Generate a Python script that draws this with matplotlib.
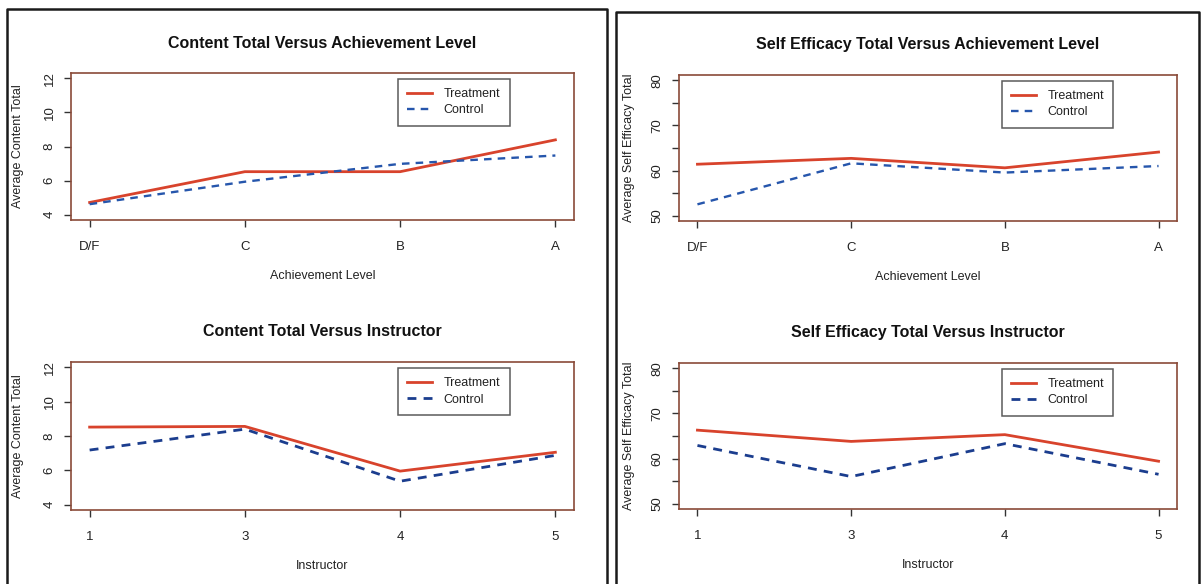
import matplotlib
matplotlib.use("Agg")
import matplotlib.pyplot as plt
import numpy as np

plt.rcParams['font.family'] = ['Liberation Sans', 'DejaVu Sans']

# data
grade_levels = ['D/F', 'C', 'B', 'A']
instructors = ['1', '3', '4', '5']

content_grade_trt = [4.71, 6.52, 6.52, 8.39]
content_grade_ctl = [4.61, 5.93, 6.98, 7.47]
content_instr_trt = [8.52, 8.56, 5.95, 7.05]
content_instr_ctl = [7.18, 8.40, 5.36, 6.87]

se_grade_trt = [61.4, 62.7, 60.6, 64.1]
se_grade_ctl = [52.5, 61.6, 59.55, 61.0]
se_instr_trt = [66.3, 63.8, 65.3, 59.4]
se_instr_ctl = [62.9, 56.0, 63.3, 56.5]

content_ticks = [4, 6, 8, 10, 12]
se_ticks = [50, 55, 60, 65, 70, 75, 80]
se_ticklabels = ['50', '', '60', '', '70', '', '80']

W, H = 1202, 584
fig = plt.figure(figsize=(W / 100, H / 100), dpi=100)
fig.patch.set_facecolor('white')

TRT_COLOR = '#d8432c'
TXT = '#222222'
SPINE = '#8a4a38'


def add_ax(x0, y0, x1, y1):
    return fig.add_axes([x0 / W, 1 - y1 / H, (x1 - x0) / W, (y1 - y0) / H])


def draw(ax, trt, ctl, cats, ticks, ticklabels, title, xlabel, ylabel,
         ctl_color, ctl_lw, ylab_off):
    x = np.arange(1, len(cats) + 1)
    ax.plot(x, trt, color=TRT_COLOR, lw=2.0, label='Treatment')
    ax.plot(x, ctl, color=ctl_color, lw=ctl_lw, linestyle=(0, (3.2, 2.6)), label='Control')
    ax.set_xlim(0.88, 4.12)
    lo, hi = ticks[0], ticks[-1]
    pad = (hi - lo) * 0.04
    ax.set_ylim(lo - pad, hi + pad)
    ax.set_xticks(x)
    ax.set_xticklabels(cats)
    ax.set_yticks(ticks)
    ax.set_yticklabels(ticklabels, rotation=90, va='center')
    ax.tick_params(axis='both', direction='out', length=5, width=1, color='#333333',
                   labelsize=9.5, labelcolor=TXT)
    ax.tick_params(axis='x', pad=10)
    ax.tick_params(axis='y', pad=6)
    for s in ax.spines.values():
        s.set_color(SPINE)
        s.set_linewidth(1.2)
    bb = ax.get_position()
    hpx = bb.height * H
    wpx = bb.width * W
    ax.text(0.5, 1 + 30 / hpx, title, transform=ax.transAxes, ha='center', va='center',
            fontsize=11.5, fontweight='bold', color='#111111')
    ax.text(0.5, -56 / hpx, xlabel, transform=ax.transAxes, ha='center', va='center',
            fontsize=9, color=TXT)
    ax.text(-ylab_off / wpx, 0.5, ylabel, transform=ax.transAxes, ha='center', va='center',
            rotation=90, fontsize=9, color=TXT)
    leg = ax.legend(loc='upper right', bbox_to_anchor=(0.872, 0.961), borderaxespad=0,
                    fontsize=9, frameon=True, fancybox=False, handlelength=2.0,
                    handletextpad=0.9, borderpad=0.75, labelspacing=0.35)
    leg.get_frame().set_edgecolor('#333333')
    leg.get_frame().set_linewidth(1.1)
    for t in leg.get_texts():
        t.set_color(TXT)


ax1 = add_ax(71, 73, 574, 220)
draw(ax1, content_grade_trt, content_grade_ctl, grade_levels, content_ticks,
     [str(t) for t in content_ticks], 'Content Total Versus Achievement Level',
     'Achievement Level', 'Average Content Total', '#2656ac', 1.7, 53)

ax2 = add_ax(71, 362, 574, 510)
draw(ax2, content_instr_trt, content_instr_ctl, instructors, content_ticks,
     [str(t) for t in content_ticks], 'Content Total Versus Instructor',
     'Instructor', 'Average Content Total', '#1b3d8e', 2.0, 53)

ax3 = add_ax(679, 75, 1177, 221)
draw(ax3, se_grade_trt, se_grade_ctl, grade_levels, se_ticks, se_ticklabels,
     'Self Efficacy Total Versus Achievement Level', 'Achievement Level',
     'Average Self Efficacy Total', '#2656ac', 1.7, 50)

ax4 = add_ax(679, 363, 1177, 509)
draw(ax4, se_instr_trt, se_instr_ctl, instructors, se_ticks, se_ticklabels,
     'Self Efficacy Total Versus Instructor', 'Instructor',
     'Average Self Efficacy Total', '#1b3d8e', 2.0, 50)

# panel frames (open at the bottom, like the cropped scan)
for x0, x1, ytop in [(7, 607, 9), (616, 1199, 12)]:
    xs = [x0 / W, x0 / W, x1 / W, x1 / W]
    ys = [0, 1 - ytop / H, 1 - ytop / H, 0]
    fig.add_artist(plt.Line2D(xs, ys, transform=fig.transFigure, color='#1a1a1a', lw=1.8))

fig.savefig('out.png', dpi=100, facecolor='white')
